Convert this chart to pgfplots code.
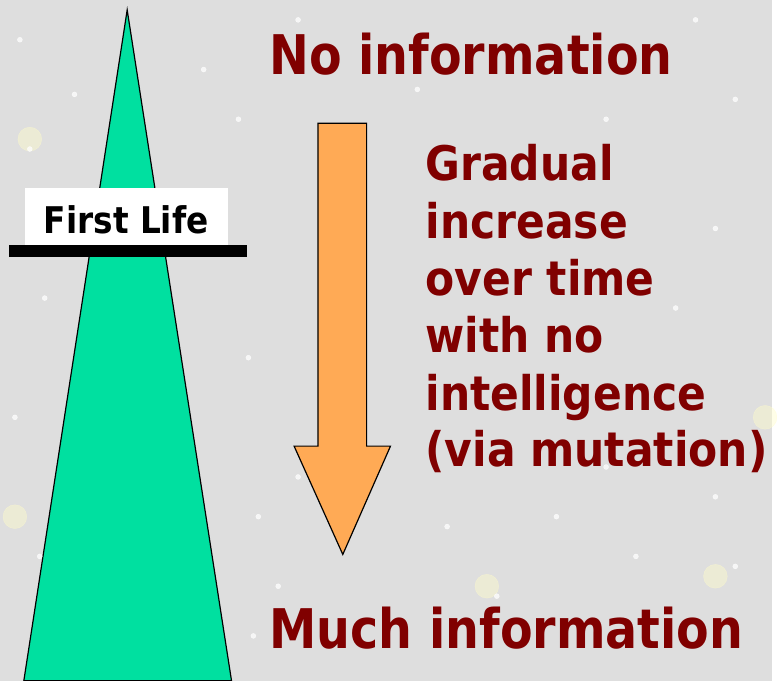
\documentclass[border=0pt]{standalone}
\usepackage{pgfplots}
\pgfplotsset{compat=1.18}
\usepackage{fontspec}
\setmainfont{DejaVu Sans}
\newfontfamily\tfont[FakeStretch=0.87]{DejaVu Sans Bold}
\newfontfamily\ffont[FakeStretch=0.89]{DejaVu Sans Bold}
\definecolor{bg}{RGB}{222,222,222}
\definecolor{tri}{RGB}{0,224,160}
\definecolor{arr}{RGB}{255,170,85}
\definecolor{dred}{RGB}{128,0,0}
\begin{document}
\begin{tikzpicture}
\begin{axis}[
  x=1pt, y=1pt, scale only axis,
  xmin=0, xmax=777, ymin=0, ymax=685,
  y dir=reverse,
  axis lines=none, ticks=none,
  clip=true,
]
% background
\addplot[draw=none, fill=bg] coordinates {(0,0) (777,0) (777,685) (0,685)} -- cycle;
% soft glows
\addplot[only marks, color=yellow!20, mark=*, mark size=12pt, opacity=0.45] coordinates {
(30,140) (490,590) (15,520) (770,420) (720,580)};
% stars
\addplot[only marks, color=white, mark=*, mark size=2.5pt, opacity=0.75] coordinates {
(20,40) (75,95) (205,70) (30,150) (240,120) (45,300) (250,360) (15,420) (260,520)
(40,560) (255,640) (300,20) (700,20) (740,100) (420,90) (610,120) (720,230) (680,310)
(560,520) (640,560) (450,530) (740,570) (500,600) (610,470) (300,480) (280,590) (720,500)};
% triangle
\addplot[draw=black, line width=1.2pt, fill=tri] coordinates {(128,10) (233,685) (24,685)} -- cycle;
% First Life box
\addplot[draw=none, fill=white] coordinates {(25,189) (229,189) (229,247) (25,247)} -- cycle;
\addplot[draw=none, fill=black] coordinates {(9,247) (249,247) (249,259) (9,259)} -- cycle;
\node[anchor=base, inner sep=0pt, font={\ffont\fontsize{37}{40}\selectfont}] at (axis cs:127,235) {First Life};
% arrow
\addplot[draw=black, line width=1.2pt, fill=arr] coordinates {(320,124) (369,124) (369,449) (393,449) (345,558) (296,449) (320,449)} -- cycle;
% texts
\node[anchor=base west, inner sep=0pt, text=dred, font={\tfont\fontsize{55}{60}\selectfont}] at (axis cs:271,75) {No information};
\node[anchor=base west, inner sep=0pt, text=dred, font={\tfont\fontsize{55}{60}\selectfont}] at (axis cs:271,653) {Much information};
\node[anchor=base west, inner sep=0pt, text=dred, font={\ffont\fontsize{48}{50}\selectfont}] at (axis cs:428,182) {Gradual};
\node[anchor=base west, inner sep=0pt, text=dred, font={\ffont\fontsize{48}{50}\selectfont}] at (axis cs:428,240) {increase};
\node[anchor=base west, inner sep=0pt, text=dred, font={\ffont\fontsize{48}{50}\selectfont}] at (axis cs:428,297) {over time};
\node[anchor=base west, inner sep=0pt, text=dred, font={\ffont\fontsize{48}{50}\selectfont}] at (axis cs:428,355) {with no};
\node[anchor=base west, inner sep=0pt, text=dred, font={\ffont\fontsize{48}{50}\selectfont}] at (axis cs:428,413) {intelligence};
\node[anchor=base west, inner sep=0pt, text=dred, font={\ffont\fontsize{48}{50}\selectfont}] at (axis cs:428,470) {(via mutation)};
\end{axis}
\end{tikzpicture}
\end{document}
